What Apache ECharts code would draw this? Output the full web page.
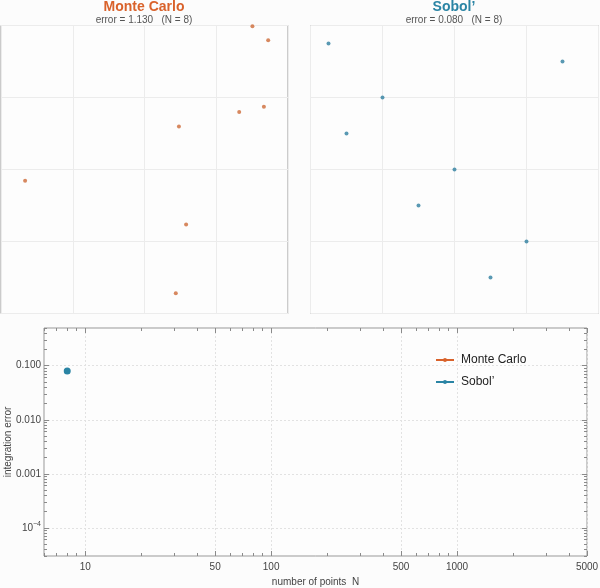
<!DOCTYPE html>
<html>
<head>
<meta charset="utf-8">
<script src="https://cdn.jsdelivr.net/npm/echarts@6/dist/echarts.min.js"></script>
<style>
  html, body { margin: 0; padding: 0; background: #fcfcfc; }
  #main { width: 600px; height: 588px; }
</style>
</head>
<body>
<div id="main"></div>
<script>
// sample points in the unit square (N = 8)
var mcPoints = [
    [0.876, 0.997], [0.931, 0.949], [0.916, 0.718], [0.830, 0.700],
    [0.620, 0.649], [0.084, 0.461], [0.645, 0.309], [0.609, 0.070]
];
var sobolPoints = [
    [0.0625, 0.9375], [0.875, 0.875], [0.25, 0.75], [0.125, 0.625],
    [0.5, 0.5], [0.375, 0.375], [0.75, 0.25], [0.625, 0.125]
];
// convergence plot: number of points vs integration error
var mcError = [[8, 1.130]];
var sobolError = [[8, 0.080]];

var xTickLabels = [10, 50, 100, 500, 1000, 5000];
var yTickLabels = [0.1, 0.01, 0.001, 0.0001];

var orange = '#d9622b';
var blue = '#2a84a4';
var font = '"Liberation Sans", Arial, sans-serif';

// minor ticks (1..9 x 10^k) inside the axis ranges
function minorTicks(lo, hi) {
    var out = [];
    for (var e = -6; e <= 4; e++) {
        for (var m = 1; m <= 9; m++) {
            var v = m * Math.pow(10, e);
            if (v >= lo && v <= hi) out.push(v);
        }
    }
    return out;
}
var xMin = 6, xMax = 5000, yMin = 3e-5, yMax = 0.5;
var xMinor = minorTicks(xMin, xMax);
var yMinor = minorTicks(yMin, yMax);
var yMajor = [1e-5, 1e-4, 1e-3, 1e-2, 1e-1].filter(function (v) { return v >= yMin; });

function squareAxis(idx) {
    return {
        type: 'value', gridIndex: idx, min: 0, max: 1, interval: 0.25,
        axisLine: { show: false }, axisTick: { show: false }, axisLabel: { show: false },
        splitLine: { lineStyle: { color: '#ececec', width: 1 } }
    };
}

function logAxis(kind, pos, major, opts) {
    var isX = kind === 'x';
    var a = {
        type: 'log', gridIndex: 2, position: pos,
        min: isX ? xMin : yMin, max: isX ? xMax : yMax,
        axisLine: { show: false },
        axisTick: { inside: true, length: major ? 5 : 3, customValues: opts.ticks,
            lineStyle: { color: '#8a8a8a', width: 1 } },
        axisLabel: { show: false },
        splitLine: { show: false }
    };
    if (opts.labels) {
        a.axisLabel = {
            show: true, customValues: opts.labels, color: '#444', fontSize: 10, fontFamily: font,
            margin: isX ? 6 : 3,
            formatter: isX ? function (v) { return String(Math.round(v)); } : function (v) {
                if (v >= 0.001) return v.toFixed(3);
                return '10{sup|' + '\u2212' + (-Math.round(Math.log10(v))) + '}';
            },
            rich: { sup: { fontSize: 7, padding: [0, 0, 7, 0], color: '#444', fontFamily: font } }
        };
        a.splitLine = { show: true, lineStyle: { color: '#e2e2e2', type: [2, 2], width: 1 } };
        a.name = opts.name;
        a.nameLocation = 'middle';
        a.nameMoveOverlap = false;
        a.nameGap = isX ? 21 : 31;
        a.nameTextStyle = { color: '#444', fontSize: 10, fontFamily: font };
    }
    return a;
}

var chart = echarts.init(document.getElementById('main'));

chart.setOption({
    backgroundColor: '#fcfcfc',
    animation: false,
    textStyle: { fontFamily: font },
    graphic: [
        { type: 'text', x: 144, y: 0, style: { text: 'Monte Carlo', fill: orange,
            font: 'bold 14px ' + font, textAlign: 'center' } },
        { type: 'text', x: 144, y: 15, style: { text: 'error = 1.130   (N = 8)', fill: '#555',
            font: '10px ' + font, textAlign: 'center' } },
        { type: 'text', x: 454, y: 0, style: { text: 'Sobol\u2019', fill: blue,
            font: 'bold 14px ' + font, textAlign: 'center' } },
        { type: 'text', x: 454, y: 15, style: { text: 'error = 0.080   (N = 8)', fill: '#555',
            font: '10px ' + font, textAlign: 'center' } }
    ],
    grid: [
        { left: 1, top: 25.5, width: 287, height: 288, show: true, borderColor: '#9a9a9a',
            borderWidth: 1, backgroundColor: '#fdfdfd', outerBoundsMode: 'none' },
        { left: 310.5, top: 25.5, width: 288, height: 288, show: true, borderColor: '#9a9a9a',
            borderWidth: 1, backgroundColor: '#fdfdfd', outerBoundsMode: 'none' },
        { left: 44, top: 328, width: 543, height: 228, show: true, borderColor: '#999',
            borderWidth: 1, backgroundColor: '#fdfdfd', outerBoundsMode: 'none' }
    ],
    xAxis: [
        squareAxis(0),
        squareAxis(1),
        logAxis('x', 'bottom', true, { ticks: xTickLabels, labels: xTickLabels, name: 'number of points  N' }),
        logAxis('x', 'bottom', false, { ticks: xMinor }),
        logAxis('x', 'top', true, { ticks: xTickLabels }),
        logAxis('x', 'top', false, { ticks: xMinor })
    ],
    yAxis: [
        squareAxis(0),
        squareAxis(1),
        logAxis('y', 'left', true, { ticks: yMajor, labels: yTickLabels, name: 'integration error' }),
        logAxis('y', 'left', false, { ticks: yMinor }),
        logAxis('y', 'right', true, { ticks: yMajor }),
        logAxis('y', 'right', false, { ticks: yMinor })
    ],
    legend: {
        orient: 'vertical', left: 430, top: 349, itemGap: 10, itemWidth: 18, itemHeight: 5,
        textStyle: { color: '#222', fontSize: 12, fontFamily: font, padding: [0, 0, 0, 2] },
        data: ['Monte Carlo', 'Sobol\u2019']
    },
    series: [
        { type: 'scatter', xAxisIndex: 0, yAxisIndex: 0, data: mcPoints, symbolSize: 4,
            itemStyle: { color: '#cd6a37' }, silent: true },
        { type: 'scatter', xAxisIndex: 1, yAxisIndex: 1, data: sobolPoints, symbolSize: 4,
            itemStyle: { color: '#2f80a0' }, silent: true },
        { name: 'Monte Carlo', type: 'line', xAxisIndex: 2, yAxisIndex: 2, data: mcError,
            symbol: 'circle', symbolSize: 7, clip: true, color: orange,
            lineStyle: { color: orange, width: 1.5 }, itemStyle: { color: orange } },
        { name: 'Sobol\u2019', type: 'line', xAxisIndex: 2, yAxisIndex: 2, data: sobolError,
            symbol: 'circle', symbolSize: 7, clip: true, color: blue,
            lineStyle: { color: blue, width: 1.5 }, itemStyle: { color: blue } }
    ]
});
</script>
</body>
</html>
